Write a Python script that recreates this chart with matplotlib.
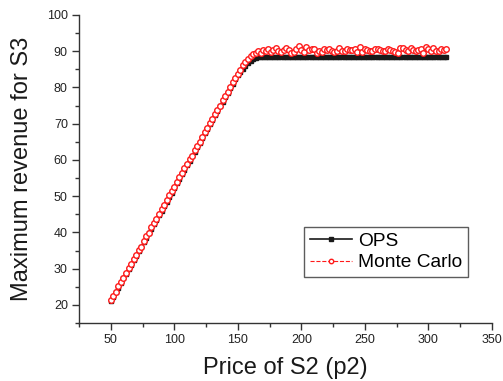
import numpy as np
import matplotlib
matplotlib.use("Agg")
import matplotlib.pyplot as plt
from matplotlib.ticker import MultipleLocator

plt.rcParams['font.family'] = ['Liberation Sans', 'DejaVu Sans']

# Price of S2, sampled every 2 units
price = np.arange(50, 315, 2)

# Optimal policy solution (OPS)
ops = [
    21.0, 22.3, 23.5, 24.8, 26.0, 27.3, 28.5, 29.8, 31.0, 32.3,
    33.5, 34.8, 36.0, 37.3, 38.5, 39.8, 41.0, 42.3, 43.5, 44.8,
    46.0, 47.3, 48.5, 49.8, 51.0, 52.3, 53.5, 54.8, 56.0, 57.3,
    58.5, 59.8, 61.0, 62.3, 63.5, 64.8, 66.0, 67.3, 68.5, 69.8,
    71.0, 72.3, 73.5, 74.8, 76.0, 77.3, 78.5, 79.8, 81.0, 82.2,
    83.3, 84.3, 85.2, 86.0, 86.7, 87.3, 87.8, 88.1, 88.3, 88.4,
    88.5,
] + [88.5] * 72

# Monte Carlo estimate
monte_carlo = [
    21.3, 22.6, 23.7, 25.1, 26.4, 27.5, 28.9, 30.1, 31.2, 32.6,
    33.8, 35.2, 36.1, 37.6, 38.9, 39.9, 41.4, 42.7, 43.6, 45.1,
    46.4, 47.5, 48.9, 50.2, 51.3, 52.5, 53.9, 55.2, 56.3, 57.7,
    58.8, 60.3, 61.2, 62.7, 63.9, 65.0, 66.4, 67.8, 68.7, 70.2,
    71.3, 72.7, 73.9, 75.0, 76.5, 77.7, 78.8, 80.2, 81.4, 82.5,
    83.8, 84.9, 86.3, 86.9, 87.9, 88.6, 89.2, 89.5, 89.9, 89.6,
    90.2,
    90.0, 90.6, 89.8, 90.4, 90.9, 90.1, 89.7, 90.3, 90.8, 90.2,
    89.6, 89.8, 90.5, 91.4, 90.3, 89.8, 91.1, 90.2, 90.6, 90.6,
    89.4, 90.0, 89.7, 90.7, 90.2, 90.5, 89.9, 89.8, 90.0, 90.8,
    90.1, 89.9, 90.7, 90.2, 90.4, 90.6, 89.7, 91.2, 89.8, 90.5,
    90.4, 89.9, 90.0, 90.7, 90.7, 90.4, 90.0, 90.1, 90.6, 90.3,
    90.0, 89.7, 89.6, 90.9, 90.9, 90.3, 90.0, 90.8, 90.2, 89.9,
    90.3, 90.6, 89.6, 91.1, 90.7, 90.1, 90.9, 90.0, 89.9, 90.5,
    90.2, 90.6,
]

assert len(ops) == len(price) and len(monte_carlo) == len(price)

fig = plt.figure(figsize=(5.03, 3.81), dpi=100)
ax = fig.add_axes([0.157, 0.152, 0.821, 0.809])

ax.plot(price, ops, color='#1a1a1a', lw=1.2, marker='s', ms=3.2,
        mec='#1a1a1a', mfc='#1a1a1a', label='OPS', zorder=2)
ax.plot(price, monte_carlo, color='#ff1a1a', lw=0.8, ls='--', marker='o',
        ms=4.0, mec='#ff1a1a', mfc='white', mew=1.0, label='Monte Carlo',
        zorder=3)

ax.set_xlim(25, 350)
ax.set_ylim(15, 100)
ax.xaxis.set_major_locator(MultipleLocator(50))
ax.xaxis.set_minor_locator(MultipleLocator(25))
ax.yaxis.set_major_locator(MultipleLocator(10))
ax.yaxis.set_minor_locator(MultipleLocator(5))

axis_col = '#333333'
for side in ('top', 'right'):
    ax.spines[side].set_visible(False)
for side in ('left', 'bottom'):
    ax.spines[side].set_color(axis_col)
    ax.spines[side].set_linewidth(1.0)
ax.tick_params(which='major', direction='out', length=5, width=1.0,
               colors=axis_col, labelsize=9, labelcolor='#222222', pad=3)
ax.tick_params(which='minor', direction='out', length=3, width=1.0,
               colors=axis_col)

ax.set_xlabel('Price of S2 (p2)', fontsize=17, color='#1a1a1a', labelpad=8)
ax.set_ylabel('Maximum revenue for S3', fontsize=17, color='#1a1a1a',
              labelpad=10)

leg = ax.legend(loc='upper left', bbox_to_anchor=(0.545, 0.312),
                fontsize=13.8, frameon=True, fancybox=False, borderpad=0.3,
                handlelength=2.2, handletextpad=0.3, labelspacing=0.2,
                borderaxespad=0, markerscale=0.8)
leg.get_frame().set_edgecolor('#333333')
leg.get_frame().set_linewidth(1.0)

fig.savefig('out.png', dpi=100)
